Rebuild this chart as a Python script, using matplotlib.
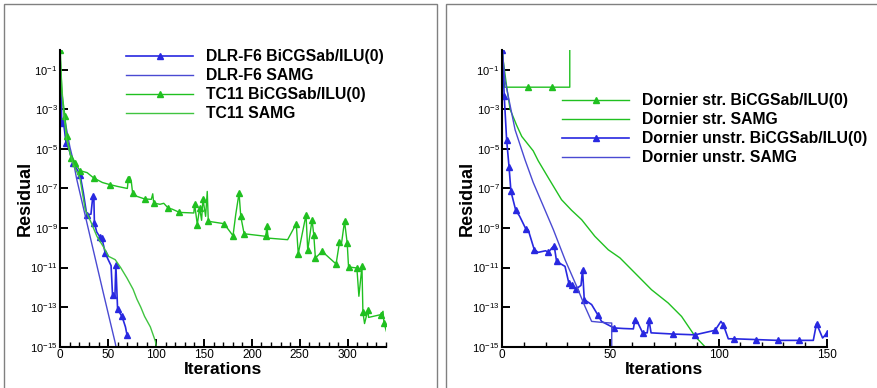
import numpy as np
import matplotlib
matplotlib.use("Agg")
import matplotlib.pyplot as plt
from matplotlib.patches import Rectangle
from matplotlib.ticker import FixedLocator, MultipleLocator, NullLocator

plt.rcParams["font.family"] = ["Liberation Sans", "DejaVu Sans"]
plt.rcParams["mathtext.default"] = "regular"

# ---- data (iteration, log10 residual) ----
# left panel: DLR-F6 / TC11
dlr_bicg_it = [0, 1, 1.5, 3, 6, 9, 13, 17, 20.6, 24, 27.6, 32, 34, 35, 35.6, 38, 41.6,
               43.4, 46.9, 50, 53, 54.5, 57, 58, 59.8, 61, 64.3, 66, 68, 69.6]
dlr_bicg_lg = [-1.2, -2.4, -3.7, -3.5, -4.7, -5.0, -5.7, -6.0, -6.3, -7.2, -8.33, -8.3,
               -7.37, -7.4, -8.75, -9.2, -9.47, -9.5, -10.26, -10.6, -10.9, -12.37, -12.5,
               -10.85, -13.1, -13.2, -13.47, -13.7, -14.0, -14.39]
dlr_bicg_mk = [2, 4, 6, 8, 10, 12, 14, 16, 17, 18, 21, 23, 24, 26, 29]

dlr_samg_it = [0, 2, 5, 10, 13.3, 17, 30, 45, 57.3, 58.5]
dlr_samg_lg = [-1.2, -2.5, -3.6, -4.9, -5.55, -6.5, -9.2, -12.3, -14.8, -15.1]

tc11_bicg_it = [0, 1.5, 4.9, 6.7, 11.2, 15.4, 20.6, 28, 34.9, 44, 52.1, 60, 70, 71, 72.5,
                74, 75.5, 80, 88, 95, 96.5, 97.5, 104, 108, 112.6, 117, 124.4, 139.4,
                140.2, 143, 145.4, 147.5, 148.9, 151.7, 153.4, 154.5, 170.9, 180.3, 183.1,
                186.6, 188.4, 191.9, 214.6, 215.6, 217, 237.3, 246.3, 248.4, 256.5,
                258.3, 262.8, 264.6, 266.3, 273.3, 287.9, 291.4, 293.5, 296.7, 299.5,
                300.9, 309.6, 311.7, 314.9, 315.9, 317.6, 321.2, 321.8, 334.4, 336.9,
                337.9, 340.4]
tc11_bicg_lg = [0.0, -2.1, -3.36, -4.37, -5.46, -5.72, -6.1, -6.2, -6.47, -6.7, -6.81, -6.9,
                -7.0, -6.5, -6.4, -6.6, -7.23, -7.4, -7.53, -7.55, -7.27, -7.74, -7.8, -7.75,
                -7.99, -8.05, -8.21, -8.24, -7.77, -8.83, -7.99, -8.61, -7.52, -8.41, -7.15,
                -8.66, -8.78, -9.39, -8.33, -7.23, -8.41, -9.29, -9.42, -8.88, -9.51, -9.59,
                -8.78, -10.3, -8.33, -10.13, -8.58, -9.34, -10.52, -10.18, -10.82, -9.73,
                -9.8, -8.66, -9.76, -10.97, -11.02, -12.45, -10.94, -13.26, -13.83, -13.13,
                -13.52, -13.38, -13.21, -13.8, -14.22]
tc11_bicg_mk = [0, 2, 3, 4, 5, 6, 8, 10, 13, 16, 18, 21, 24, 26, 28, 29, 30, 32, 35, 36,
                37, 39, 40, 41, 42, 43, 46, 47, 48, 49, 50, 51, 52, 53, 54, 55, 57, 58,
                59, 60, 62, 63, 65, 67, 69]

tc11_samg_it = [0, 3.1, 6.6, 13, 20.6, 26, 32, 38.2, 45, 50.3, 57.3, 63, 69.6, 76, 80,
                84, 88, 94, 99.3, 100.5]
tc11_samg_lg = [-0.5, -3.0, -4.54, -5.72, -6.5, -8.07, -8.7, -9.42, -9.95, -10.43, -10.6,
                -11.0, -11.53, -12.1, -12.6, -13.0, -13.47, -14.0, -14.73, -15.1]

# right panel: Dornier
str_bicg_it = [0, 1, 12, 23.1, 31.2, 31.2]
str_bicg_lg = [0.0, -1.88, -1.88, -1.88, -1.88, 2.0]
str_bicg_mk = [2, 3]

str_samg_it = [0, 0.5, 2, 3.6, 6.6, 9, 14.3, 16.6, 21.5, 27.4, 32, 36.7, 42.8, 49,
               54.4, 61.3, 69, 76.7, 82.9, 89.1, 93.7, 95]
str_samg_lg = [0.0, -0.6, -1.84, -3.0, -3.8, -4.37, -5.1, -5.6, -6.5, -7.57, -8.1, -8.58,
               -9.42, -10.1, -10.51, -11.27, -12.12, -12.79, -13.47, -14.47, -15.0, -15.3]

uns_bicg_it = [0, 0.9, 2, 3.1, 4, 6.2, 8, 10.9, 12, 14.8, 16.6, 20, 21.3, 23, 24, 25.1,
               29, 30.8, 32.1, 34.1, 36.4, 37.1, 37.9, 41.3, 44.1, 45.9, 49, 51.6, 56,
               60.6, 61.3, 62.5, 64.9, 67, 67.8, 68.8, 79.1, 89.1, 98.4, 101.1, 102.2,
               104.5, 107.2, 117.3, 127.3, 137.3, 143.8, 145.3, 148.1, 150.2]
uns_bicg_lg = [0.0, -2.35, -4.54, -5.89, -7.15, -8.1, -8.4, -9.05, -9.1, -10.1, -10.23,
               -10.15, -10.23, -10.0, -9.9, -10.69, -10.94, -11.8, -11.9, -12.08, -11.9,
               -11.1, -12.62, -12.87, -13.38, -13.72, -13.9, -14.05, -14.08, -14.1,
               -13.65, -13.75, -14.3, -14.3, -13.64, -14.3, -14.36, -14.4, -14.17, -13.72,
               -13.89, -14.6, -14.6, -14.64, -14.68, -14.68, -14.68, -13.83, -14.56, -14.31]
uns_bicg_mk = [0, 1, 2, 3, 4, 5, 7, 9, 12, 14, 15, 17, 18, 19, 21, 22, 24, 27, 30, 32,
               34, 36, 37, 38, 40, 42, 43, 44, 45, 47, 49]

uns_samg_it = [0, 1.2, 5.9, 10.5, 14.3, 19, 23.6, 29, 34.4, 38.2, 41.3, 45.9, 49.8,
               50.6, 50.6]
uns_samg_lg = [0.0, -1.5, -4.03, -5.55, -6.7, -7.9, -9.08, -10.6, -11.95, -12.96, -13.72,
               -13.77, -13.8, -13.8, -16.0]

y_tick_exps = [-15, -13, -11, -9, -7, -5, -3, -1]

BLUE = "#2828e0"
BLUE_L = "#4a4ad2"
GREEN = "#20c020"
GREEN_L = "#40c440"

fig = plt.figure(figsize=(8.78, 3.88), dpi=100)
W, H = 878.0, 388.0

# panel frames
for x0, x1 in [(4.5, 437.0), (446.0, 884.0)]:
    fig.patches.append(Rectangle((x0 / W, -0.05), (x1 - x0) / W, 1 - 4.5 / H + 0.05,
                                 transform=fig.transFigure, fill=False,
                                 edgecolor="#808080", linewidth=1.0))


def style_axis(ax, xmax, xmajor):
    ax.set_yscale("log")
    ax.set_ylim(1e-15, 1e0)
    ax.set_xlim(0, xmax)
    ax.yaxis.set_major_locator(FixedLocator([10.0 ** e for e in y_tick_exps]))
    ax.set_yticklabels([r"$10^{%d}$" % e for e in y_tick_exps])
    ax.yaxis.set_minor_locator(NullLocator())
    ax.xaxis.set_major_locator(MultipleLocator(xmajor))
    ax.xaxis.set_minor_locator(MultipleLocator(10))
    ax.tick_params(which="major", direction="in", length=6, width=1.4, labelsize=8.5,
                   pad=2)
    ax.tick_params(which="minor", direction="in", length=3.5, width=1.0)
    ax.tick_params(axis="y", which="major", pad=2, labelsize=8)
    for s in ["top", "right"]:
        ax.spines[s].set_visible(False)
    for s in ["left", "bottom"]:
        ax.spines[s].set_linewidth(1.5)
    ax.set_ylabel("Residual", fontsize=13, weight="bold")
    ax.set_xlabel("Iterations", fontsize=12.5, weight="bold")
    ax.yaxis.set_label_coords(-0.082, 0.5)
    ax.xaxis.set_label_coords(0.5, -0.052)


def plot_series(ax, it, lg, color, label, mk=None, lw=1.0):
    y = [10.0 ** v for v in lg]
    if mk is None:
        ax.plot(it, y, color=color, lw=lw, label=label)
    else:
        ax.plot(it, y, color=color, lw=lw, marker="^", markersize=4,
                markevery=mk, label=label)


def add_legend(ax, x, y):
    ax.legend(loc="upper left", bbox_to_anchor=(x / W, 1 - y / H),
              bbox_transform=fig.transFigure, frameon=False, borderpad=0,
              borderaxespad=0, handlelength=4.3, handletextpad=0.8,
              labelspacing=0.25, prop={"weight": "bold", "size": 11.3})


ax1 = fig.add_axes([60.3 / W, 1 - 346.7 / H, (386 - 60.3) / W, (346.7 - 50) / H])
plot_series(ax1, dlr_bicg_it, dlr_bicg_lg, BLUE, "DLR-F6 BiCGSab/ILU(0)", dlr_bicg_mk, 1.2)
plot_series(ax1, dlr_samg_it, dlr_samg_lg, BLUE_L, "DLR-F6 SAMG")
plot_series(ax1, tc11_bicg_it, tc11_bicg_lg, GREEN, "TC11 BiCGSab/ILU(0)", tc11_bicg_mk)
plot_series(ax1, tc11_samg_it, tc11_samg_lg, GREEN_L, "TC11 SAMG")
style_axis(ax1, 340, 50)
add_legend(ax1, 126, 49.5)

ax2 = fig.add_axes([502.3 / W, 1 - 346.7 / H, (826.7 - 502.3) / W, (346.7 - 50) / H])
plot_series(ax2, str_bicg_it, str_bicg_lg, GREEN, "Dornier str. BiCGSab/ILU(0)", str_bicg_mk)
plot_series(ax2, str_samg_it, str_samg_lg, GREEN, "Dornier str. SAMG")
plot_series(ax2, uns_bicg_it, uns_bicg_lg, BLUE, "Dornier unstr. BiCGSab/ILU(0)", uns_bicg_mk, 1.2)
plot_series(ax2, uns_samg_it, uns_samg_lg, BLUE_L, "Dornier unstr. SAMG")
style_axis(ax2, 150, 50)
add_legend(ax2, 562, 93.5)

fig.savefig("out.png", dpi=100)
